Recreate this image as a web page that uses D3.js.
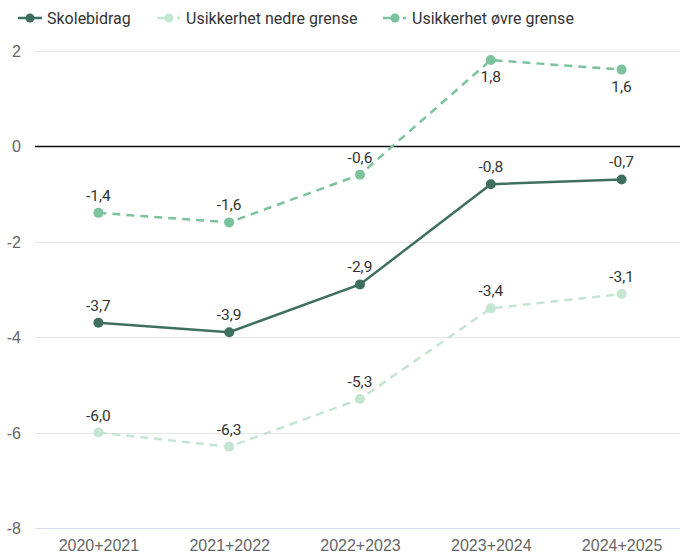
<!DOCTYPE html>
<html lang="no">
<head>
    <meta charset="UTF-8">
    <title>Skolebidrag</title>
    <script src="https://d3js.org/d3.v7.min.js"></script>
    <style>
        body {
            margin: 0;
            padding: 0;
            background: #fff;
            font-family: Roboto, Arial, sans-serif;
            overflow: hidden;
        }
        .tick text {
            fill: #666;
            font-size: 16px;
        }
        .label {
            font-size: 15.5px;
            fill: #333;
        }
        .legend text {
            font-size: 16px;
            fill: #333;
        }
    </style>
</head>
<body>
    <div id="chart"></div>
    <script>
        // Data
        const categories = ["2020+2021", "2021+2022", "2022+2023", "2023+2024", "2024+2025"];
        const skolebidrag = [-3.7, -3.9, -2.9, -0.8, -0.7];
        const nedreGrense = [-6.0, -6.3, -5.3, -3.4, -3.1];
        const ovreGrense = [-1.4, -1.6, -0.6, 1.8, 1.6];
        const yTicks = [2, 0, -2, -4, -6, -8];

        const series = [
            { name: "Skolebidrag", values: skolebidrag, color: "#3f6f5f", dash: null, labelBelow: [] },
            { name: "Usikkerhet nedre grense", values: nedreGrense, color: "#c4e5d2", dash: "8,6", labelBelow: [] },
            { name: "Usikkerhet øvre grense", values: ovreGrense, color: "#7cc39d", dash: "8,6", labelBelow: [3, 4] }
        ];

        const width = 680, height = 555;

        const svg = d3.select("#chart").append("svg")
            .attr("width", width)
            .attr("height", height);

        const x = d3.scalePoint()
            .domain(categories)
            .range([33, 687])
            .padding(0.5);

        const y = d3.scaleLinear()
            .domain([-8, 2])
            .range([528, 50.5]);

        // Gridlines
        svg.append("g")
            .selectAll("line")
            .data(yTicks)
            .enter().append("line")
            .attr("x1", 35)
            .attr("x2", width)
            .attr("y1", d => Math.round(y(d)) + 0.5)
            .attr("y2", d => Math.round(y(d)) + 0.5)
            .attr("stroke", d => d === 0 ? "#111" : (d === -8 ? "#d5dfee" : "#e6e6e6"))
            .attr("stroke-width", d => d === 0 ? 1.5 : 1);

        // Y axis labels (plain hyphen minus like the original)
        const yAxis = svg.append("g")
            .attr("transform", "translate(21,0)")
            .call(d3.axisLeft(y).tickValues(yTicks).tickSize(0).tickPadding(0).tickFormat(d => String(d)));
        yAxis.select(".domain").remove();
        yAxis.selectAll("text").attr("text-anchor", "end").attr("dy", "0.35em");

        // X axis labels
        const xAxis = svg.append("g")
            .attr("transform", "translate(0,538)")
            .call(d3.axisBottom(x).tickSize(0).tickPadding(0));
        xAxis.select(".domain").remove();
        xAxis.selectAll("text").attr("dy", "0.8em");

        const line = d3.line()
            .x((d, i) => x(categories[i]))
            .y(d => y(d));

        const fmt = v => v.toFixed(1).replace(".", ",");

        // Draw series (lower band first so main line sits on top)
        [series[1], series[2], series[0]].forEach(s => {
            const g = svg.append("g");
            g.append("path")
                .datum(s.values)
                .attr("fill", "none")
                .attr("stroke", s.color)
                .attr("stroke-width", 2.5)
                .attr("stroke-dasharray", s.dash)
                .attr("d", line);
            g.selectAll("circle")
                .data(s.values)
                .enter().append("circle")
                .attr("cx", (d, i) => x(categories[i]))
                .attr("cy", d => y(d))
                .attr("r", 5)
                .attr("fill", s.color);
            g.selectAll("text")
                .data(s.values)
                .enter().append("text")
                .attr("class", "label")
                .attr("text-anchor", "middle")
                .attr("x", (d, i) => x(categories[i]))
                .attr("y", (d, i) => s.labelBelow.includes(i) ? y(d) + 22 : y(d) - 12)
                .text(fmt);
        });

        // Legend
        const legendItems = [
            { s: series[0], x: 18 },
            { s: series[1], x: 157 },
            { s: series[2], x: 383 }
        ];
        const legend = svg.append("g").attr("class", "legend");
        legendItems.forEach(item => {
            const g = legend.append("g").attr("transform", `translate(${item.x},18)`);
            if (item.s.dash) {
                g.append("line").attr("x1", 0).attr("x2", 8).attr("stroke", item.s.color).attr("stroke-width", 2.5);
                g.append("line").attr("x1", 20).attr("x2", 23).attr("stroke", item.s.color).attr("stroke-width", 2.5);
            } else {
                g.append("line").attr("x1", 0).attr("x2", 24).attr("stroke", item.s.color).attr("stroke-width", 2.5);
            }
            g.append("circle").attr("cx", 12).attr("r", 4.5).attr("fill", item.s.color);
            g.append("text").attr("x", 29).attr("dy", "0.35em").text(item.s.name);
        });
    </script>
</body>
</html>
